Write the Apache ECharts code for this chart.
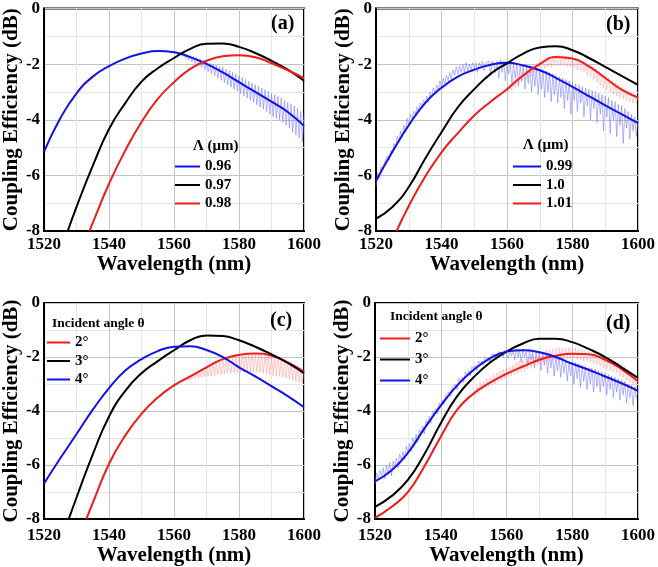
<!DOCTYPE html>
<html><head><meta charset="utf-8">
<script src="https://cdn.jsdelivr.net/npm/echarts@6/dist/echarts.min.js"></script>
<style>html,body{margin:0;padding:0;background:#fff}#c{width:658px;height:567px}</style>
</head><body><div id="c"></div>
<script>
// ---------- data ----------
const wl = [1520,1525,1530,1535,1540,1545,1550,1555,1560,1565,1570,1575,1580,1585,1590,1595,1600];
const tickX = [1520,1540,1560,1580,1600];
const tickY = [-8,-6,-4,-2,0];

// (a) period 0.96 / 0.97 / 0.98 um
const aBlue  = [-5.15,-3.95,-3.05,-2.45,-2.07,-1.8,-1.62,-1.53,-1.57,-1.75,-1.99,-2.3,-2.65,-3.0,-3.35,-3.72,-4.22];
const aBlackX = [1527.3,1530,1535,1540,1545,1550,1555,1560,1565,1570,1575,1580,1585,1590,1595,1600];
const aBlack  = [-8,-7.13,-5.65,-4.33,-3.4,-2.63,-2.15,-1.78,-1.45,-1.27,-1.26,-1.38,-1.6,-1.88,-2.2,-2.6];
const aRedX = [1534,1535,1540,1545,1550,1555,1560,1565,1570,1575,1580,1585,1590,1595,1600];
const aRed  = [-8,-7.7,-6.3,-5.1,-4.08,-3.25,-2.65,-2.17,-1.88,-1.72,-1.68,-1.75,-1.97,-2.22,-2.5];

// (b) period 0.99 / 1.0 / 1.01 um
const bBlue  = [-6.2,-5.15,-4.2,-3.4,-2.85,-2.45,-2.2,-2.02,-1.95,-2.05,-2.22,-2.5,-2.82,-3.15,-3.48,-3.8,-4.12];
const bBlack = [-7.56,-7.14,-6.42,-5.4,-4.45,-3.55,-2.9,-2.35,-1.97,-1.62,-1.4,-1.36,-1.5,-1.78,-2.1,-2.42,-2.75];
const bRedX = [1526.3,1530,1535,1540,1545,1550,1555,1560,1565,1570,1575,1580,1585,1590,1595,1600];
const bRed  = [-8,-7.1,-6.05,-5.17,-4.48,-3.85,-3.35,-2.9,-2.4,-2.0,-1.74,-1.8,-2.08,-2.5,-2.92,-3.2];

// (c) incident angle 2 / 3 / 4 deg
const cRedX = [1533,1535,1540,1545,1550,1555,1560,1565,1570,1575,1580,1585,1590,1595,1600];
const cRed  = [-8,-7.4,-5.95,-4.9,-4.1,-3.5,-3.05,-2.72,-2.38,-2.08,-1.92,-1.87,-1.95,-2.2,-2.55];
const cBlackX = [1527.6,1530,1535,1540,1545,1550,1555,1560,1565,1570,1575,1580,1585,1590,1595,1600];
const cBlack  = [-8,-7.2,-5.6,-4.2,-3.25,-2.6,-2.15,-1.75,-1.38,-1.2,-1.22,-1.38,-1.62,-1.9,-2.22,-2.6];
const cBlue  = [-6.68,-5.75,-4.85,-3.95,-3.15,-2.5,-2.08,-1.78,-1.62,-1.6,-1.74,-2.0,-2.38,-2.72,-3.08,-3.45,-3.86];

// (d) incident angle 2 / 3 / 4 deg
const dRed   = [-7.95,-7.55,-7.0,-6.05,-4.95,-3.95,-3.35,-2.95,-2.62,-2.35,-2.1,-1.95,-1.88,-1.9,-2.1,-2.45,-2.9];
const dBlack = [-7.55,-7.15,-6.55,-5.6,-4.45,-3.45,-2.75,-2.2,-1.8,-1.5,-1.32,-1.32,-1.45,-1.7,-2.0,-2.38,-2.77];
const dBlue  = [-6.6,-6.2,-5.55,-4.65,-3.8,-3.05,-2.48,-2.05,-1.8,-1.75,-1.82,-2.0,-2.25,-2.47,-2.72,-2.97,-3.25];

// measured (fringed) traces, samples every 0.5 nm from the start wavelength
const aBlueMeasStart = 1560;
const aBlueMeas = [-1.55,-1.62,-1.56,-1.68,-1.58,-1.72,-1.6,-1.78,-1.64,-1.85,-1.68,-1.92,-1.72,-1.98,-1.76,-2.05,-1.8,-2.12,-1.85,-2.2,
 -1.9,-2.27,-1.95,-2.35,-2.0,-2.42,-2.04,-2.5,-2.08,-2.58,-2.12,-2.66,-2.18,-2.74,-2.24,-2.82,-2.3,-2.9,-2.36,-2.98,
 -2.42,-3.06,-2.48,-3.14,-2.55,-3.22,-2.62,-3.3,-2.68,-3.38,-2.74,-3.46,-2.8,-3.54,-2.86,-3.62,-2.92,-3.7,-2.98,-3.8,
 -3.05,-3.9,-3.1,-3.95,-3.16,-4.0,-3.22,-4.1,-3.3,-4.2,-3.38,-4.3,-3.44,-4.45,-3.5,-4.55,-3.6,-4.65,-3.7,-4.8,-3.8];
const bBlueMeasStart = 1520;
const bBlueMeas = [-6.4,-5.9,-6.1,-5.7,-5.8,-5.55,-5.6,-5.3,-5.45,-5.1,-5.2,-4.85,-5.0,-4.6,-4.8,-4.4,-4.65,-4.2,-4.45,-3.95,
 -4.2,-3.8,-3.95,-3.7,-3.8,-3.55,-3.7,-3.4,-3.55,-3.3,-3.4,-3.15,-3.35,-3.0,-3.2,-2.85,-3.05,-2.75,-2.95,-2.6,
 -2.85,-2.5,-2.7,-2.4,-2.6,-2.3,-2.55,-2.2,-2.4,-2.1,-2.35,-2.05,-2.3,-2.0,-2.3,-1.95,-2.25,-2.0,-2.2,-1.95,
 -2.15,-1.95,-2.3,-1.95,-2.1,-1.9,-2.25,-1.95,-2.0,-1.9,-2.4,-1.9,-2.0,-2.3,-1.9,-2.5,-1.85,-2.3,-1.9,-2.6,
 -1.95,-2.35,-1.9,-2.7,-2.0,-2.5,-2.0,-2.8,-2.05,-2.6,-2.0,-2.9,-2.1,-2.7,-2.05,-3.0,-2.1,-2.8,-2.15,-3.1,
 -2.2,-2.9,-2.2,-3.2,-2.25,-3.0,-2.3,-3.35,-2.35,-3.1,-2.4,-3.4,-2.45,-3.2,-2.5,-3.6,-2.55,-3.3,-2.6,-3.8,
 -2.65,-3.3,-2.7,-3.7,-2.75,-3.4,-2.8,-3.9,-2.85,-3.5,-2.9,-4.0,-2.95,-3.6,-3.0,-4.1,-3.05,-3.8,-3.1,-4.4,
 -3.15,-3.9,-3.2,-4.5,-3.3,-4.0,-3.35,-4.6,-3.45,-4.2,-3.5,-4.85,-3.6,-4.3,-3.7,-4.7,-3.8,-4.4,-3.9,-4.6,-4.0];
const bRedMeasStart = 1560;
const bRedMeas = [-2.8,-3.0,-2.7,-2.95,-2.6,-2.85,-2.5,-2.75,-2.4,-2.65,-2.3,-2.55,-2.22,-2.48,-2.12,-2.4,-2.04,-2.32,-1.97,-2.25,
 -1.9,-2.2,-1.85,-2.15,-1.8,-2.1,-1.75,-2.1,-1.72,-2.05,-1.7,-2.05,-1.68,-2.05,-1.68,-2.05,-1.7,-2.1,-1.72,-2.1,
 -1.75,-2.15,-1.78,-2.2,-1.82,-2.25,-1.88,-2.3,-1.94,-2.4,-2.0,-2.45,-2.08,-2.55,-2.16,-2.65,-2.24,-2.75,-2.32,-2.85,
 -2.4,-2.9,-2.5,-3.0,-2.58,-3.1,-2.66,-3.15,-2.74,-3.2,-2.82,-3.25,-2.9,-3.3,-2.96,-3.35,-3.02,-3.4,-3.08,-3.4,-3.15];
const cRedMeasStart = 1562;
const cRedMeas = [-2.85,-2.9,-2.8,-2.88,-2.75,-2.85,-2.7,-2.82,-2.65,-2.8,-2.58,-2.78,-2.52,-2.76,-2.45,-2.74,-2.38,-2.72,-2.32,-2.7,
 -2.26,-2.68,-2.2,-2.66,-2.15,-2.64,-2.08,-2.62,-2.04,-2.6,-2.0,-2.6,-1.97,-2.58,-1.94,-2.56,-1.92,-2.55,-1.9,-2.55,
 -1.88,-2.55,-1.87,-2.55,-1.87,-2.55,-1.87,-2.56,-1.88,-2.57,-1.9,-2.6,-1.92,-2.62,-1.94,-2.65,-1.96,-2.68,-1.99,-2.7,
 -2.02,-2.72,-2.06,-2.75,-2.1,-2.78,-2.15,-2.82,-2.2,-2.86,-2.26,-2.9,-2.33,-2.93,-2.4,-2.97,-2.5];
const dBlueMeasStart = 1520;
const dBlueMeas = [-6.7,-6.3,-6.5,-6.2,-6.4,-6.1,-6.5,-6.0,-6.35,-5.9,-6.4,-5.85,-6.0,-5.75,-6.1,-5.6,-5.8,-5.5,-5.8,-5.3,
 -5.5,-5.2,-5.5,-5.0,-5.2,-4.85,-5.15,-4.7,-4.85,-4.55,-4.85,-4.35,-4.5,-4.2,-4.45,-4.0,-4.1,-3.9,-4.1,-3.7,
 -3.8,-3.6,-3.75,-3.4,-3.45,-3.3,-3.45,-3.1,-3.15,-3.0,-3.2,-2.8,-2.9,-2.75,-2.95,-2.55,-2.65,-2.5,-2.7,-2.35,
 -2.45,-2.3,-2.5,-2.15,-2.25,-2.15,-2.3,-2.0,-2.1,-2.0,-2.2,-1.9,-1.95,-1.9,-2.1,-1.8,-1.85,-1.85,-2.0,-1.75,
 -1.8,-2.05,-1.75,-1.95,-1.8,-2.1,-1.7,-2.0,-1.75,-2.2,-1.7,-2.0,-1.8,-2.3,-1.75,-2.1,-1.8,-2.4,-1.8,-2.2,
 -1.85,-2.5,-1.85,-2.3,-1.9,-2.6,-1.9,-2.4,-1.95,-2.7,-2.0,-2.5,-2.0,-2.75,-2.05,-2.6,-2.1,-2.9,-2.15,-2.7,
 -2.2,-3.0,-2.2,-2.8,-2.25,-3.1,-2.3,-2.9,-2.35,-3.2,-2.4,-3.0,-2.4,-3.3,-2.45,-3.1,-2.5,-3.3,-2.55,-3.1,
 -2.6,-3.4,-2.65,-3.2,-2.7,-3.5,-2.75,-3.3,-2.8,-3.6,-2.85,-3.4,-2.9,-3.7,-3.0,-3.5,-3.05,-3.8,-3.1,-3.5,-3.3];
const dRedMeasStart = 1550;
const dRedMeas = [-3.15,-3.45,-3.05,-3.35,-2.95,-3.25,-2.9,-3.15,-2.8,-3.1,-2.75,-3.05,-2.65,-3.0,-2.6,-2.9,-2.5,-2.85,-2.45,-2.8,
 -2.4,-2.75,-2.35,-2.7,-2.3,-2.65,-2.2,-2.6,-2.15,-2.55,-2.1,-2.5,-2.05,-2.45,-2.0,-2.4,-1.95,-2.35,-1.9,-2.3,
 -1.85,-2.25,-1.8,-2.2,-1.75,-2.15,-1.72,-2.15,-1.7,-2.1,-1.68,-2.1,-1.66,-2.05,-1.65,-2.05,-1.65,-2.05,-1.65,-2.05,
 -1.66,-2.05,-1.67,-2.1,-1.7,-2.1,-1.72,-2.15,-1.75,-2.15,-1.78,-2.2,-1.82,-2.25,-1.86,-2.3,-1.9,-2.35,-1.95,-2.4,
 -2.0,-2.45,-2.05,-2.5,-2.1,-2.55,-2.15,-2.6,-2.2,-2.7,-2.25,-2.75,-2.35,-2.85,-2.45,-2.95,-2.55,-3.05,-2.65,-3.15,-2.75];

const legendA = ['0.96','0.97','0.98'];
const legendB = ['0.99','1.0','1.01'];
const legendCD = ['2°','3°','4°'];

// ---------- build ----------
const BLUE = '#1212e6', RED = '#ee1c1c', BLACK = '#000000';
const LBLUE = '#7070ff', LRED = '#ff7c7c';
const SERIF = '"Liberation Serif","Times New Roman",serif';
const zip = (xs, ys) => ys.map((v, i) => [xs[i], v]);
const meas = (start, ys) => ys.map((v, i) => [start + i * 0.5, v]);

const grids = [
  {left:40, top:7, width:264, height:224},
  {left:376, top:7, width:264, height:224},
  {left:40, top:303, width:264, height:222},
  {left:375, top:303, width:265, height:222}
];
const xNameGap = [19, 19, 15, 15];
const xLabMargin = [5, 5, 8, 8];

const xAxes = grids.map((g, i) => ({
  type:'value', gridIndex:i, min:tickX[0], max:tickX[tickX.length-1], interval:tickX[1]-tickX[0],
  name:'Wavelength (nm)', nameLocation:'middle', nameGap:xNameGap[i],
  nameTextStyle:{fontFamily:SERIF, fontWeight:'bold', fontSize:21, color:'#000'},
  axisLine:{show:true, onZero:false, lineStyle:{color:'#000', width:2}},
  axisTick:{show:false},
  axisLabel:{fontFamily:SERIF, fontWeight:'bold', fontSize:17, color:'#000', margin:xLabMargin[i],
    showMinLabel:true, showMaxLabel:true, formatter:v => String(v)},
  splitLine:{show:true, lineStyle:{color:'#c4c4c4', width:1}},
  minorTick:{show:false, splitNumber:2},
  minorSplitLine:{show:true, lineStyle:{color:'#e6e6e6', width:1}}
}));
const yAxes = grids.map((g, i) => ({
  type:'value', gridIndex:i, min:tickY[0], max:tickY[tickY.length-1], interval:tickY[1]-tickY[0],
  name:'Coupling Efficiency (dB)', nameLocation:'middle', nameGap:22, nameRotate:90,
  nameTextStyle:{fontFamily:SERIF, fontWeight:'bold', fontSize:21, color:'#000'},
  axisLine:{show:true, onZero:false, lineStyle:{color:'#000', width:2}},
  axisTick:{show:false},
  axisLabel:{fontFamily:SERIF, fontWeight:'bold', fontSize:17, color:'#000', margin:4, formatter:v => String(v)},
  splitLine:{show:true, lineStyle:{color:'#c4c4c4', width:1}},
  minorTick:{show:false, splitNumber:2},
  minorSplitLine:{show:true, lineStyle:{color:'#e6e6e6', width:1}}
}));

function main(name, idx, color, data) {
  return {type:'line', name, xAxisIndex:idx, yAxisIndex:idx, data, smooth:0.5, symbol:'none',
    lineStyle:{color, width:2}, itemStyle:{color}, z:5, clip:true, silent:true};
}
function fringe(idx, color, data, op) {
  return {type:'line', name:'_meas'+idx+color, xAxisIndex:idx, yAxisIndex:idx, data, symbol:'none',
    lineStyle:{color, width:0.7, opacity:op}, z:3, clip:true, silent:true};
}

const series = [
  fringe(0, LBLUE, meas(aBlueMeasStart, aBlueMeas), 0.75),
  main('0.96', 0, BLUE, zip(wl, aBlue)),
  main('0.97', 0, BLACK, zip(aBlackX, aBlack)),
  main('0.98', 0, RED, zip(aRedX, aRed)),

  fringe(1, LBLUE, meas(bBlueMeasStart, bBlueMeas), 0.75),
  fringe(1, LRED, meas(bRedMeasStart, bRedMeas), 0.5),
  main('0.99', 1, BLUE, zip(wl, bBlue)),
  main('1.0', 1, BLACK, zip(wl, bBlack)),
  main('1.01', 1, RED, zip(bRedX, bRed)),

  fringe(2, LRED, meas(cRedMeasStart, cRedMeas), 0.6),
  main('2°', 2, RED, zip(cRedX, cRed)),
  main('3°', 2, BLACK, zip(cBlackX, cBlack)),
  main('4°', 2, BLUE, zip(wl, cBlue)),

  fringe(3, LBLUE, meas(dBlueMeasStart, dBlueMeas), 0.75),
  fringe(3, LRED, meas(dRedMeasStart, dRedMeas), 0.5),
  main('2°', 3, RED, zip(wl, dRed)),
  main('3°', 3, BLACK, zip(wl, dBlack)),
  main('4°', 3, BLUE, zip(wl, dBlue))
];

const titleStyle = (sz) => ({fontFamily:SERIF, fontWeight:'bold', fontSize:sz, color:'#000'});
const titles = [
  {text:'(a)', left:271, top:14, textStyle:titleStyle(20), padding:0},
  {text:'(b)', left:606, top:15, textStyle:titleStyle(20), padding:0},
  {text:'(c)', left:270, top:311, textStyle:titleStyle(20), padding:0},
  {text:'(d)', left:606, top:314, textStyle:titleStyle(20), padding:0},
  {text:'Λ (μm)', left:193, top:139, textStyle:titleStyle(15), padding:0},
  {text:'Λ (μm)', left:523, top:138, textStyle:titleStyle(15), padding:0},
  {text:'Incident angle θ', left:52, top:317, textStyle:titleStyle(13.5), padding:0},
  {text:'Incident angle θ', left:390, top:310, textStyle:titleStyle(13.5), padding:0}
];

const legText = {fontFamily:SERIF, fontWeight:'bold', fontSize:15, color:'#000'};
const legBase = {orient:'vertical', icon:'rect', itemHeight:2, textStyle:legText, padding:0, selectedMode:false};
const legends = [
  Object.assign({data:legendA, left:175, top:159, itemWidth:25, itemGap:3.5}, legBase),
  Object.assign({data:legendB, left:513, top:159, itemWidth:28, itemGap:3.5}, legBase),
  Object.assign({data:legendCD, left:47, top:335, itemWidth:23, itemGap:3.5}, legBase),
  Object.assign({data:legendCD, left:380, top:331, itemWidth:30, itemGap:6}, legBase)
];

const chart = echarts.init(document.getElementById('c'), null, {renderer:'canvas'});
chart.setOption({
  animation:false,
  backgroundColor:'#fff',
  title:titles,
  legend:legends,
  grid:grids.map(g => Object.assign({show:true, borderColor:'#000', borderWidth:2, backgroundColor:'transparent'}, g)),
  xAxis:xAxes,
  yAxis:yAxes,
  series
});
</script></body></html>
